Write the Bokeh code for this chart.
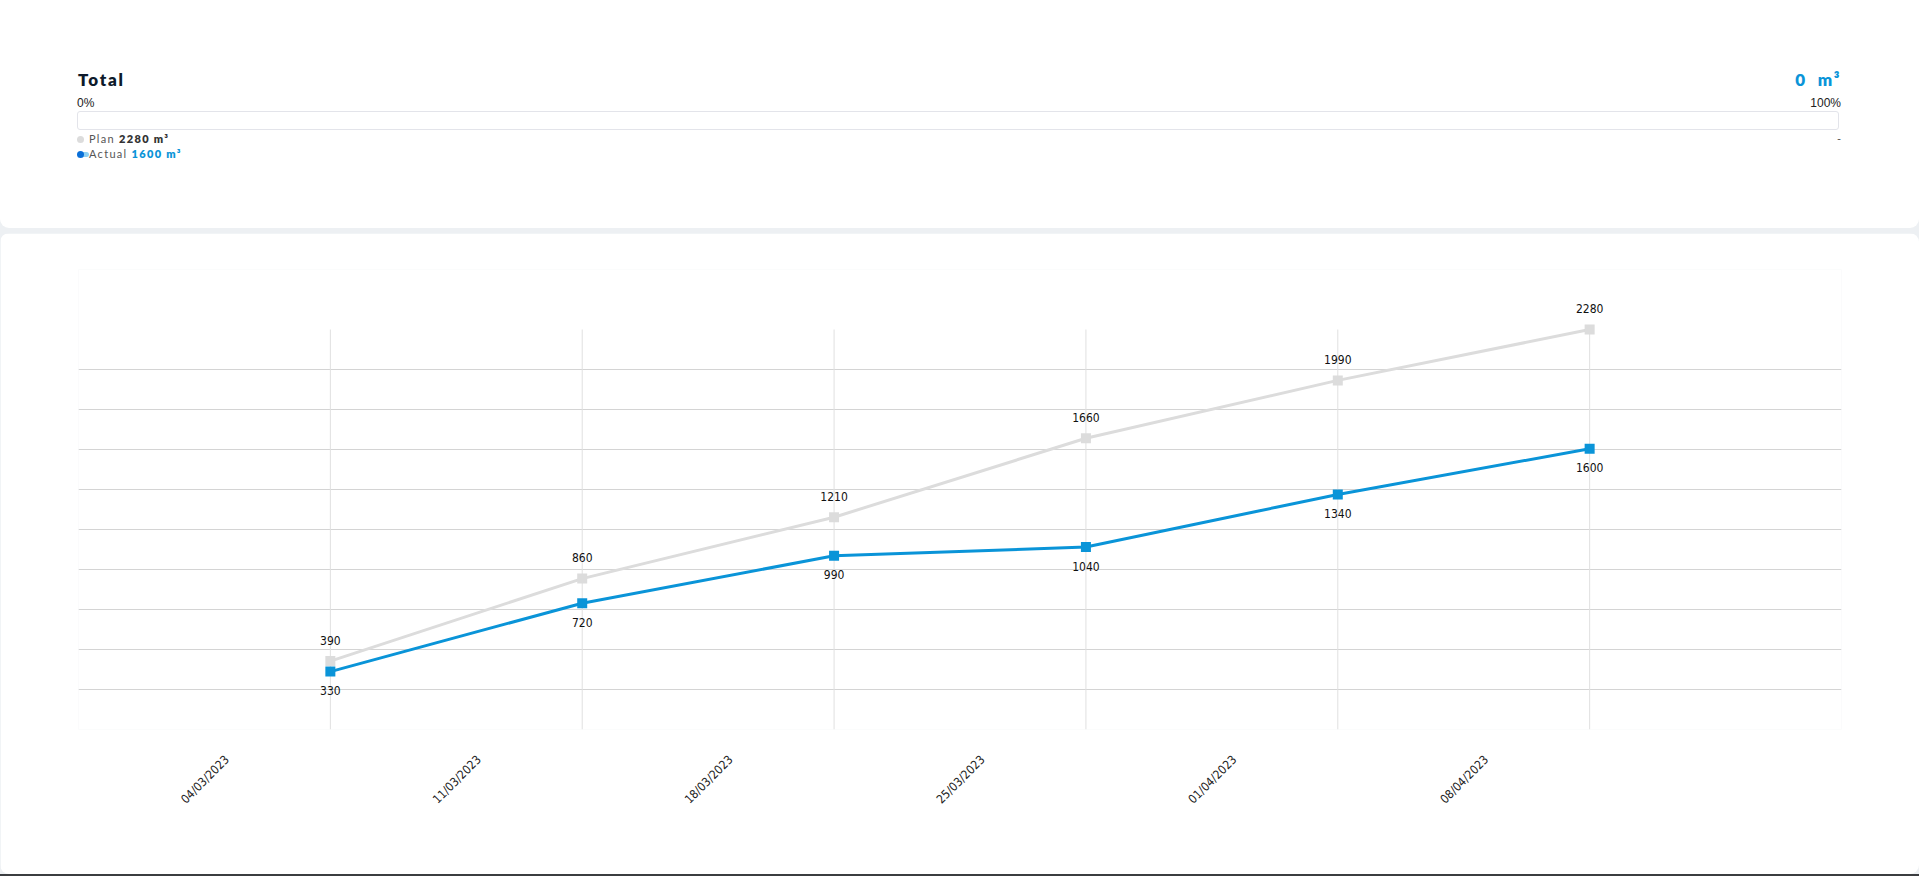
import math
from bokeh.plotting import figure
from bokeh.models import Range1d, FixedTicker, ColumnDataSource, Div, Grid
from bokeh.layouts import column
from bokeh.embed import file_html
from bokeh.resources import INLINE
from bokeh.core.properties import value

# ---- data ----
week_labels = ["04/03/2023", "11/03/2023", "18/03/2023", "25/03/2023", "01/04/2023", "08/04/2023"]
point_index = [1, 2, 3, 4, 5, 6]
plan = [390, 860, 1210, 1660, 1990, 2280]
actual = [330, 720, 990, 1040, 1340, 1600]
unit = "m³"
delivered_total = 0
progress_left, progress_right = "0%", "100%"

PLAN_C = "#dcdcdc"
ACT_C = "#0a94d8"
NARROW = "'DejaVu Sans Condensed', 'Roboto', sans-serif"

# ---- header card (HTML) ----
head_font = "Lato, 'Open Sans', sans-serif"
header_html = f"""
<div style="position:relative;width:1919px;height:228px;background:#ffffff;border-radius:0 0 9px 9px;font-family:{head_font};">
  <div style="position:absolute;left:78px;top:70px;font-size:17px;font-weight:800;letter-spacing:1.8px;color:#0d1a2b;line-height:20px;">Total</div>
  <div style="position:absolute;right:78px;top:70px;font-size:17px;font-weight:800;letter-spacing:1.6px;color:{ACT_C};line-height:20px;">{delivered_total}&nbsp; {unit}</div>
  <div style="position:absolute;left:77px;top:96px;font-size:12px;color:#222;line-height:14px;font-family:'Liberation Sans',Arial,sans-serif;">{progress_left}</div>
  <div style="position:absolute;right:78px;top:96px;font-size:12px;color:#222;line-height:14px;font-family:'Liberation Sans',Arial,sans-serif;">{progress_right}</div>
  <div style="position:absolute;left:77px;top:111px;width:1762px;height:19px;border:1px solid #e3e4ea;border-radius:3px;background:#fff;"></div>
  <div style="position:absolute;left:77px;top:136px;width:7px;height:7px;border-radius:50%;background:{PLAN_C};"></div>
  <div style="position:absolute;left:89px;top:132px;font-size:11px;letter-spacing:1.3px;color:#555;line-height:14px;">Plan <b style="color:#333;font-weight:800;">{plan[-1]} {unit}</b></div>
  <div style="position:absolute;right:78px;top:132px;font-size:11px;color:#555;line-height:14px;">-</div>
  <div style="position:absolute;left:80px;top:152px;width:9px;height:5px;border-radius:3px;background:#8fd0f2;"></div>
  <div style="position:absolute;left:77px;top:151px;width:7px;height:7px;border-radius:50%;background:#0a6fd8;"></div>
  <div style="position:absolute;left:89px;top:147px;font-size:11px;letter-spacing:1.3px;color:#555;line-height:14px;">Actual <b style="color:{ACT_C};font-weight:800;">{actual[-1]} {unit}</b></div>
</div>
"""
top_card = Div(text=header_html, width=1919, height=228, margin=0)
gap = Div(text="", width=1919, height=5, margin=0, styles={"background-color": "#edf0f3"})
bottom_line = Div(text="", width=1919, height=2, margin=0, styles={"background-color": "#3b3d40"})

# ---- chart ----
ymax = max(plan)
head_room = 0.15          # extra range above the highest value for its label
y_end = ymax * (1 + head_room)
p = figure(width=1919, height=641, x_range=Range1d(0, len(point_index) + 1),
           y_range=Range1d(0, y_end), output_backend="svg", toolbar_location=None,
           y_axis_location=None, min_border_left=78, min_border_right=78,
           min_border_top=36, min_border_bottom=145)
p.outline_line_color = None
p.background_fill_color = "#ffffff"
p.border_fill_color = "#ffffff"
p.styles = {"border-radius": "9px", "overflow": "hidden"}

for g in p.xgrid:
    g.visible = False
for g in p.ygrid:
    g.visible = False
# horizontal grid: ten equal steps of the top value, top one not drawn
ygrid_ticks = [ymax / 10 * i for i in range(10)]
p.add_layout(Grid(dimension=1, ticker=FixedTicker(ticks=ygrid_ticks),
                  grid_line_color="#d4d4d4", grid_line_width=1))
# vertical guides at each data point, from 0 up to the top value
p.segment(x0=point_index, y0=[0] * len(point_index), x1=point_index,
          y1=[ymax] * len(point_index), line_color="#e0e0e0", line_width=1)

# x axis: week labels, placed left of the points
label_ticks = [i - 0.41 for i in point_index]
p.xaxis.ticker = FixedTicker(ticks=label_ticks)
p.xaxis.major_label_overrides = {t: l for t, l in zip(label_ticks, week_labels)}
p.xaxis.major_label_orientation = math.pi / 4
p.xaxis.axis_line_color = None
p.xaxis.major_tick_line_color = None
p.xaxis.minor_tick_line_color = None
p.xaxis.major_label_text_font = NARROW
p.xaxis.major_label_text_font_size = "12px"
p.xaxis.major_label_text_color = "#222222"
p.xaxis.major_label_standoff = 22

src = ColumnDataSource(dict(x=point_index, plan=plan, actual=actual,
                            plan_t=[str(v) for v in plan], act_t=[str(v) for v in actual]))

p.line("x", "plan", source=src, line_color=PLAN_C, line_width=3)
p.scatter("x", "plan", source=src, marker="square", size=10, fill_color=PLAN_C, line_color=None)
p.line("x", "actual", source=src, line_color=ACT_C, line_width=3)
p.scatter("x", "actual", source=src, marker="square", size=10, fill_color=ACT_C, line_color=None)

p.text("x", "plan", text="plan_t", source=src, y_offset=-21, text_align="center",
       text_baseline="middle", text_font=value(NARROW), text_font_size="12px", text_color="#111111")
p.text("x", "actual", text="act_t", source=src, y_offset=19, text_align="center",
       text_baseline="middle", text_font=value(NARROW), text_font_size="12px", text_color="#111111")

layout = column(top_card, gap, p, bottom_line, spacing=0,
                styles={"background-color": "#edf0f3"})

open("out.html", "w").write(file_html(layout, INLINE))
